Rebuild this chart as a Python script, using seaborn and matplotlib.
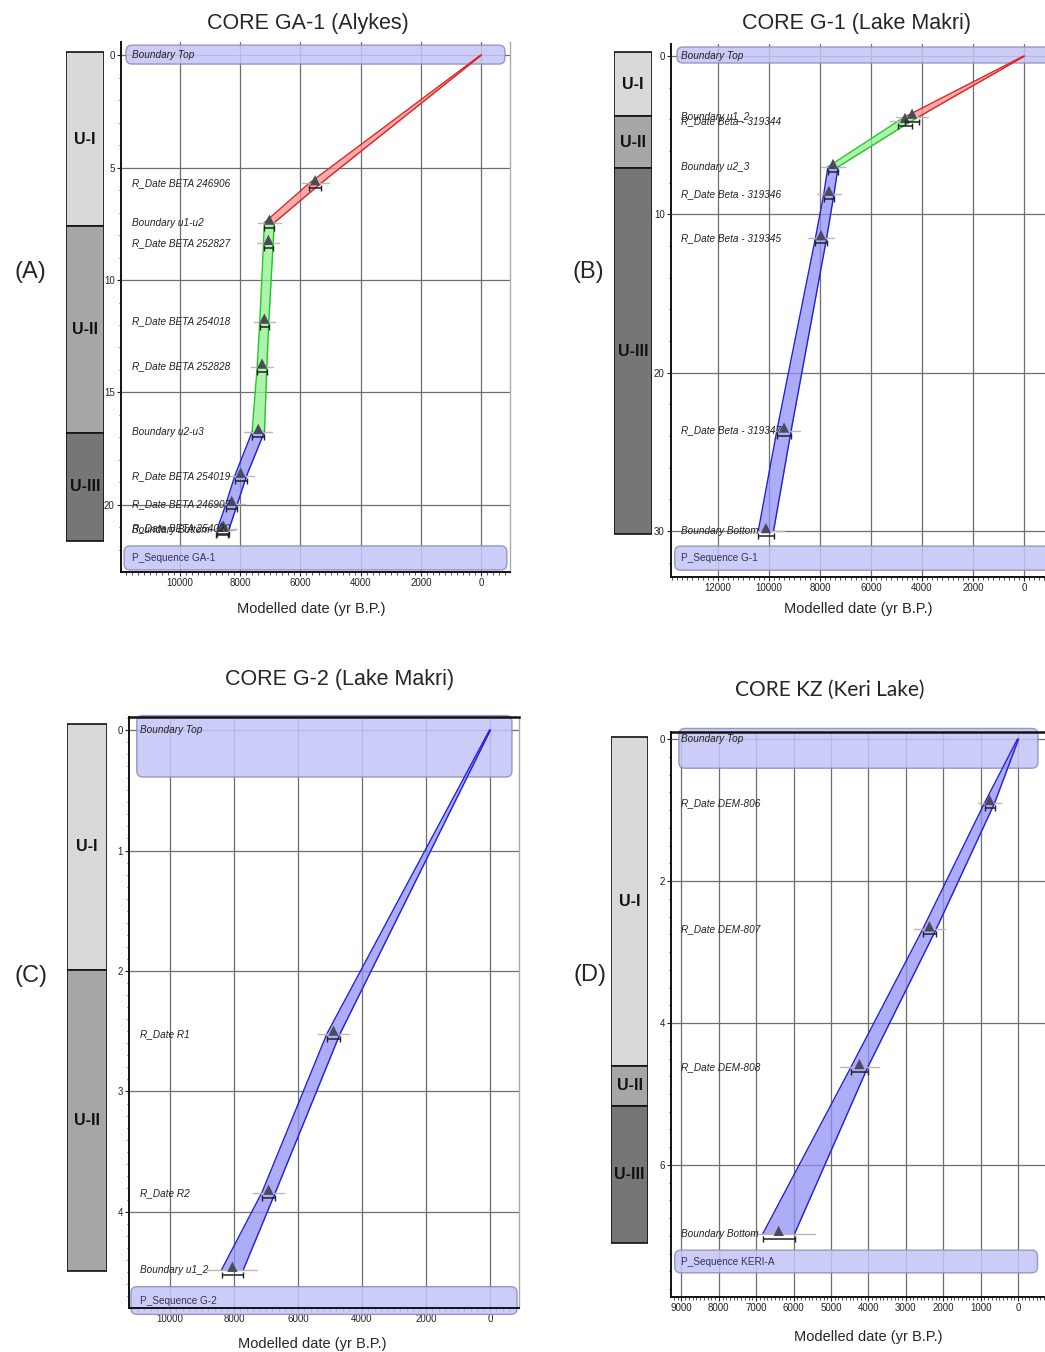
import numpy as np
import pandas as pd
import matplotlib
matplotlib.use("Agg")
import matplotlib.pyplot as plt
import seaborn as sns
from matplotlib.patches import FancyBboxPatch
from matplotlib.transforms import offset_copy, blended_transform_factory
from matplotlib.ticker import MultipleLocator

sns.set_theme(style="white")
plt.rcParams['font.family'] = ['Liberation Sans', 'DejaVu Sans']

W, H = 1045, 1352

# ------------------------- DATA -------------------------
# Panel A: CORE GA-1 (Alykes)
A_labels = ["Boundary Top", "R_Date BETA 246906", "Boundary u1-u2", "R_Date BETA 252827",
            "R_Date BETA 254018", "R_Date BETA 252828", "Boundary u2-u3", "R_Date BETA 254019",
            "R_Date BETA 246907", "R_Date BETA 254020", "Boundary Bottom"]
A_depth = [0, 5.7, 7.45, 8.35, 11.85, 13.85, 16.75, 18.7, 19.95, 21.05, 21.1]
A_age = [0, 5515, 7033, 7066, 7200, 7276, 7400, 7984, 8283, 8560, 8615]
A_half = [15, 195, 165, 160, 150, 160, 205, 195, 190, 195, 195]
A_segments = [("red", 0, 2), ("green", 2, 6), ("blue", 6, 10)]
A_units = ["U-I", "U-II", "U-III"]
A_unit_top = [-0.13, 7.6, 16.8]
A_unit_base = [7.6, 16.8, 21.6]

# Panel B: CORE G-1 (Lake Makri)
B_labels = ["Boundary Top", "Boundary u1_2", "R_Date Beta - 319344", "Boundary u2_3",
            "R_Date Beta - 319346", "R_Date Beta - 319345", "R_Date Beta - 319347", "Boundary Bottom"]
B_depth = [0, 3.83, 4.1, 7.0, 8.7, 11.5, 23.65, 30.0]
B_age = [0, 4390, 4670, 7490, 7650, 7960, 9410, 10120]
B_half = [20, 270, 260, 200, 200, 220, 280, 300]
B_segments = [("red", 0, 1), ("green", 1, 3), ("blue", 3, 7)]
B_units = ["U-I", "U-II", "U-III"]
B_unit_top = [-0.25, 3.79, 7.07]
B_unit_base = [3.79, 7.07, 30.2]

# Panel C: CORE G-2 (Lake Makri)
C_labels = ["Boundary Top", "R_Date R1", "R_Date R2", "Boundary u1_2"]
C_depth = [0, 2.52, 3.84, 4.48]
C_age = [0, 4890, 6920, 8050]
C_half = [15, 205, 210, 340]
C_segments = [("blue", 0, 3)]
C_units = ["U-I", "U-II"]
C_unit_top = [-0.05, 1.99]
C_unit_base = [1.99, 4.49]

# Panel D: CORE KZ (Keri Lake)
D_labels = ["Boundary Top", "R_Date DEM-806", "R_Date DEM-807", "R_Date DEM-808", "Boundary Bottom"]
D_depth = [0, 0.9, 2.68, 4.62, 6.97]
D_age = [0, 760, 2370, 4240, 6400]
D_half = [15, 135, 180, 225, 425]
D_segments = [("blue", 0, 4)]
D_units = ["U-I", "U-II", "U-III"]
D_unit_top = [-0.03, 4.6, 5.17]
D_unit_base = [4.6, 5.17, 7.1]

# ------------------------- STYLE -------------------------
SEG = {"red": ("#f59090", "#e02020"),
       "green": ("#90f090", "#20c820"),
       "blue": ("#9090f5", "#2020dc")}
UNIT_COL = {"U-I": "#d9d9d9", "U-II": "#a6a6a6", "U-III": "#767676"}
BOX_FILL = "#c4c4f7"
BOX_EDGE = "#8a8ab8"

fig = plt.figure(figsize=(W / 100, H / 100), dpi=100)


def px_rect(x0, y0, x1, y1):
    return [x0 / W, 1 - y1 / H, (x1 - x0) / W, (y1 - y0) / H]


def add_box(ax, x0f, x1f, d0, d1, text, italic, ax_wpx, ax_hpx):
    tr = blended_transform_factory(ax.transAxes, ax.transData)
    # convert depth to axes fraction for rounding compatibility
    y0 = ax.transAxes.inverted().transform(ax.transData.transform((0, d1)))[1]
    y1 = ax.transAxes.inverted().transform(ax.transData.transform((0, d0)))[1]
    r = 6 / ax_wpx
    box = FancyBboxPatch((x0f, y0), x1f - x0f, y1 - y0,
                         boxstyle=f"round,pad=0,rounding_size={r}",
                         mutation_aspect=ax_wpx / ax_hpx,
                         transform=ax.transAxes, facecolor=BOX_FILL, edgecolor=BOX_EDGE,
                         lw=1.0, alpha=0.85, zorder=1.5, clip_on=False)
    ax.add_patch(box)


def panel(pxbox, xlim, ylim, xmaj, xmin, ymaj, ymin, labels, depth, age, half, segments,
          colbox, units, utop, ubase, topbox, seqbox, seqtext, right_spine=True, top_spine=False,
          lab_fs=7.2):
    x0, y0, x1, y1 = pxbox
    ax = fig.add_axes(px_rect(x0, y0, x1, y1))
    ax.set_xlim(*xlim)
    ax.set_ylim(*ylim)
    ax_wpx, ax_hpx = x1 - x0, y1 - y0

    ax.xaxis.set_major_locator(MultipleLocator(xmaj))
    ax.xaxis.set_minor_locator(MultipleLocator(xmin))
    ax.yaxis.set_major_locator(MultipleLocator(ymaj))
    ax.yaxis.set_minor_locator(MultipleLocator(ymin))
    ax.grid(True, which="major", color="#6e6e6e", lw=0.9, zorder=0.5)
    ax.set_axisbelow(True)
    ax.tick_params(axis="both", which="major", labelsize=7, length=3, width=0.8,
                   direction="out", bottom=True, left=True, pad=1.5, colors="#222222")
    ax.tick_params(axis="both", which="minor", length=1.8, width=0.6, bottom=True, left=True,
                   colors="#333333")
    for s in ["left", "bottom"]:
        ax.spines[s].set_color("#111111")
        ax.spines[s].set_linewidth(1.4)
    ax.spines["right"].set_visible(right_spine)
    ax.spines["right"].set_color("#aaaaaa")
    ax.spines["right"].set_linewidth(1.0)
    ax.spines["top"].set_visible(top_spine)
    ax.spines["top"].set_color("#111111")
    ax.spines["top"].set_linewidth(1.8)
    ax.set_xlabel("")
    ax.set_ylabel("")

    # boxes
    add_box(ax, topbox[0], topbox[1], topbox[2], topbox[3], "Boundary Top", True, ax_wpx, ax_hpx)
    add_box(ax, seqbox[0], seqbox[1], seqbox[2], seqbox[3], seqtext, False, ax_wpx, ax_hpx)
    tlab = blended_transform_factory(ax.transAxes, ax.transData)
    ax.text(0.027, (seqbox[2] + seqbox[3]) / 2, seqtext, transform=tlab, fontsize=lab_fs,
            va="center", ha="left", color="#333355", zorder=6)

    depth = np.asarray(depth, float)
    age = np.asarray(age, float)
    half = np.asarray(half, float)

    # modelled age bands
    for col, s, e in segments:
        fill, edge = SEG[col]
        d = depth[s:e + 1]
        old = age[s:e + 1] + half[s:e + 1]
        young = age[s:e + 1] - half[s:e + 1]
        ax.fill_betweenx(d, young, old, color=fill, alpha=0.75, lw=0, zorder=3)
        ax.plot(old, d, color=edge, lw=1.0, zorder=4)
        ax.plot(young, d, color=edge, lw=1.0, zorder=4)

    # prior likelihood spread lines
    for i in range(1, len(depth)):
        ax.plot([age[i] - 2.3 * half[i], age[i] + 2.3 * half[i]], [depth[i], depth[i]],
                color="#b8b8b8", lw=1.0, zorder=4.5)

    # posterior triangles
    df = pd.DataFrame({"age": age[1:], "depth": depth[1:]})
    tri_tr = offset_copy(ax.transData, fig=fig, x=0, y=3, units="dots")
    sns.scatterplot(data=df, x="age", y="depth", ax=ax, marker="^", s=55, color="#4a4a5c",
                    edgecolor="none", zorder=6, legend=False, transform=tri_tr)
    ax.set_xlabel("")
    ax.set_ylabel("")

    # range brackets
    br_tr = offset_copy(ax.transData, fig=fig, x=0, y=-5, units="dots")
    for i in range(1, len(depth)):
        ax.errorbar([age[i]], [depth[i]], xerr=[half[i]], fmt="none", ecolor="#222222",
                    elinewidth=1.1, capsize=2.2, capthick=1.0, transform=br_tr, zorder=6)

    # labels
    for i, lab in enumerate(labels):
        d = depth[min(i, len(depth) - 1)]
        ax.text(0.027, d, lab, transform=tlab, fontsize=lab_fs, style="italic",
                va="center", ha="left", color="#222222", zorder=7)

    # stratigraphic column
    cx0, cx1 = colbox
    cax = fig.add_axes(px_rect(cx0, y0, cx1, y1))
    cax.set_ylim(*ylim)
    cax.set_xlim(0, 1)
    for u, t, b in zip(units, utop, ubase):
        cax.bar(0.5, b - t, bottom=t, width=1.0, color=UNIT_COL[u], edgecolor="#111111",
                lw=1.2, zorder=2)
        cax.text(0.5, (t + b) / 2, u, ha="center", va="center", fontsize=11.5,
                 fontweight="bold", color="#111111", zorder=3)
    cax.axis("off")
    return ax


axA = panel((121, 42, 510, 572), (11960, -960), (22.98, -0.58), 2000, 200, 5, 1,
            A_labels, A_depth, A_age, A_half, A_segments, (66, 104),
            A_units, A_unit_top, A_unit_base,
            (0.013, 0.987, -0.44, 0.4), (0.008, 0.992, 21.82, 22.89), "P_Sequence GA-1")
axB = panel((671, 44, 1045, 577), (13840, -820), (32.9, -0.76), 2000, 200, 10, 2,
            B_labels, B_depth, B_age, B_half, B_segments, (614, 652),
            B_units, B_unit_top, B_unit_base,
            (0.016, 1.03, -0.57, 0.44), (0.01, 1.03, 30.95, 32.47), "P_Sequence G-1",
            right_spine=False)
axC = panel((129, 717, 519, 1308), (11281, -906), (4.797, -0.108), 2000, 200, 1, 0.1,
            C_labels, C_depth, C_age, C_half, C_segments, (67, 107),
            C_units, C_unit_top, C_unit_base,
            (0.02, 0.982, -0.12, 0.39), (0.005, 0.995, 4.62, 4.85), "P_Sequence G-2",
            top_spine=True)
axD = panel((671, 732, 1045, 1297), (9278, -722), (7.86, -0.1), 1000, 100, 2, 0.25,
            D_labels, D_depth, D_age, D_half, D_segments, (611, 648),
            D_units, D_unit_top, D_unit_base,
            (0.021, 0.981, -0.15, 0.41), (0.01, 0.98, 7.2, 7.52), "P_Sequence KERI-A",
            right_spine=False, top_spine=True)

# titles, axis labels, panel letters
fig.text(308 / W, 1 - 24 / H, "CORE GA-1 (Alykes)", ha="center", va="center", fontsize=15.5)
fig.text(856 / W, 1 - 24 / H, "CORE G-1 (Lake Makri)", ha="center", va="center", fontsize=15.5)
fig.text(340 / W, 1 - 680 / H, "CORE G-2 (Lake Makri)", ha="center", va="center", fontsize=15.5)
fig.text(830 / W, 1 - 690 / H, "CORE KZ (Keri Lake)", ha="center", va="center", fontsize=15,
         family=["Lato", "DejaVu Sans"])
for x, y in [(311, 609), (858, 609), (312, 1344), (868, 1337)]:
    fig.text(x / W, 1 - y / H, "Modelled date (yr B.P.)", ha="center", va="center", fontsize=10.5)
for t, x, y in [("(A)", 30, 272), ("(B)", 588, 272), ("(C)", 31, 976), ("(D)", 590, 975)]:
    fig.text(x / W, 1 - y / H, t, ha="center", va="center", fontsize=17)

fig.savefig("out.png", dpi=100)
